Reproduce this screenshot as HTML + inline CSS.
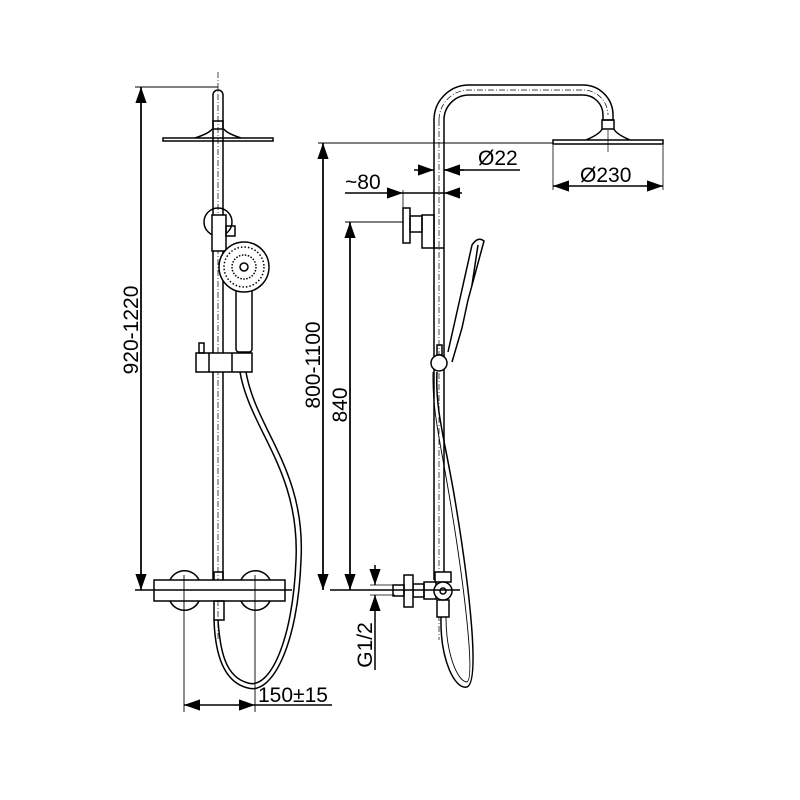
<!DOCTYPE html>
<html><head><style>body{margin:0;background:#fff}svg{display:block}text{font-family:"Liberation Sans",sans-serif;font-size:21px;fill:#000}</style></head><body>
<svg width="800" height="800" viewBox="0 0 800 800" xmlns="http://www.w3.org/2000/svg">
<defs>
<marker id="a" viewBox="0 0 10 10" refX="10" refY="5" markerWidth="16" markerHeight="16" markerUnits="userSpaceOnUse" orient="auto"><path d="M0,1.5 L10,5 L0,8.5z" fill="#000"/></marker>
</defs>
<g fill="none" stroke="#000" stroke-width="1.5">
<path d="M213,580 V95 A5,5 0 0 1 223,95 V580" fill="#fff"/>
<line x1="218" y1="72" x2="218" y2="640" stroke-dasharray="6,2,1,2" stroke-width="0.7"/>
<rect x="213" y="121" width="10" height="8"/>
<path d="M163,138 H273 V141 H163Z M195,138 Q210,133 212,129 M241,138 Q226,133 224,129"/>
<circle cx="218" cy="222" r="14"/>
<rect x="212" y="215" width="14" height="36" fill="#fff"/>
<rect x="226" y="226" width="9" height="10"/>
<rect x="236" y="285" width="16" height="67" rx="3" fill="#fff"/>
<circle cx="244" cy="267" r="25" fill="#fff"/>
<circle cx="244" cy="267" r="20" stroke-dasharray="1.5,2"/>
<circle cx="244" cy="267" r="12" stroke-dasharray="1.5,1.5"/>
<circle cx="244" cy="267" r="4"/>
<rect x="196" y="353" width="56" height="19" fill="#fff"/>
<line x1="209" y1="353" x2="209" y2="372"/><line x1="232" y1="353" x2="232" y2="372"/>
<rect x="199" y="343" width="5" height="10"/>
<path d="M240,372 C250,430 300,470 296,560 C293,640 270,690 248,683 C225,677 220,650 218,620"/>
<path d="M246,372 C256,430 306,470 301,560 C298,645 272,695 248,688 C222,682 215,650 214,620"/>
<rect x="214" y="572" width="9" height="9"/>
<rect x="154" y="580" width="131" height="21" fill="#fff"/>
<path d="M170,580 A16,16 0 0 1 199,580 M170,601 A16,16 0 0 0 199,601 M241,580 A16,16 0 0 1 270,580 M241,601 A16,16 0 0 0 270,601"/>
<rect x="214" y="601" width="10" height="19"/>
<line x1="135" y1="590" x2="292" y2="590"/>
<line x1="135" y1="87" x2="218" y2="87" stroke-width="0.9"/>
<line x1="141" y1="590" x2="141" y2="87" marker-end="url(#a)"/>
<line x1="141" y1="87" x2="141" y2="590" marker-end="url(#a)"/>
<line x1="184" y1="575" x2="184" y2="712" stroke-width="0.9"/>
<line x1="255" y1="575" x2="255" y2="712" stroke-width="0.9"/>
<line x1="220" y1="705" x2="184" y2="705" marker-end="url(#a)"/>
<line x1="220" y1="705" x2="255" y2="705" marker-end="url(#a)"/>
<line x1="255" y1="705" x2="332" y2="705"/>

<path d="M434,580 V120 A35,35 0 0 1 469,85 H583 A30,30 0 0 1 613,115 V120 H603 V115 A20,20 0 0 0 583,95 H469 A25,25 0 0 0 444,120 V580" fill="#fff"/>
<path d="M439,120 A30,30 0 0 1 469,90 H583 A25,25 0 0 1 608,115" stroke-dasharray="6,2,1,2" stroke-width="0.7"/>
<line x1="439" y1="120" x2="439" y2="640" stroke-dasharray="6,2,1,2" stroke-width="0.7"/>
<line x1="434" y1="248" x2="444" y2="248"/>
<rect x="602" y="120" width="12" height="9"/>
<path d="M553,140 H663 V144 H553Z M586,140 Q600,134 602,129 M630,140 Q616,134 614,129"/>
<line x1="608" y1="130" x2="608" y2="152" stroke-width="0.7"/>
<rect x="403" y="208" width="7" height="35" fill="#fff"/>
<rect x="410" y="216" width="12" height="16"/>
<rect x="422" y="215" width="12" height="33"/>
<path d="M448,352 L472,245 Q478,236 484,241 L468,300 L462,328 L452,362" fill="#fff"/>
<line x1="472" y1="285" x2="478" y2="245"/>
<rect x="437" y="345" width="5" height="10"/>
<circle cx="439" cy="363" r="8" fill="#fff"/>
<path d="M441,617 C440,660 455,690 467,687 C480,682 470,590 455,500 C445,440 435,410 437,372"/>
<path d="M446,617 C446,655 458,682 467,682 C475,678 465,590 450,500 C440,440 432,410 433,372" stroke-width="0.9"/>
<rect x="435" y="572" width="16" height="10" fill="#fff"/>
<rect x="437" y="600" width="12" height="17" fill="#fff"/>
<rect x="424" y="582" width="12" height="17" fill="#fff"/>
<circle cx="443" cy="591" r="9" fill="#fff"/>
<circle cx="443" cy="591" r="3"/>
<rect x="413" y="584" width="11" height="13"/>
<rect x="404" y="575" width="9" height="32" fill="#fff"/>
<rect x="393" y="585" width="11" height="11"/>
<line x1="330" y1="590" x2="460" y2="590"/>
<line x1="318" y1="143" x2="553" y2="143" stroke-width="0.9"/>
<line x1="323" y1="590" x2="323" y2="143" marker-end="url(#a)"/>
<line x1="323" y1="143" x2="323" y2="590" marker-end="url(#a)"/>
<line x1="345" y1="222" x2="403" y2="222" stroke-width="0.9"/>
<line x1="350" y1="590" x2="350" y2="222" marker-end="url(#a)"/>
<line x1="350" y1="222" x2="350" y2="590" marker-end="url(#a)"/>
<line x1="414" y1="170" x2="434" y2="170" marker-end="url(#a)"/>
<line x1="464" y1="170" x2="444" y2="170" marker-end="url(#a)"/>
<line x1="444" y1="170" x2="520" y2="170"/>
<line x1="345" y1="193" x2="403" y2="193" marker-end="url(#a)"/>
<line x1="462" y1="193" x2="444" y2="193" marker-end="url(#a)"/>
<line x1="403" y1="193" x2="444" y2="193"/>
<line x1="403" y1="190" x2="403" y2="208" stroke-width="0.8"/>
<line x1="553" y1="145" x2="553" y2="190" stroke-width="0.8"/>
<line x1="663" y1="145" x2="663" y2="190" stroke-width="0.8"/>
<line x1="608" y1="186" x2="553" y2="186" marker-end="url(#a)"/>
<line x1="608" y1="186" x2="663" y2="186" marker-end="url(#a)"/>
<line x1="375" y1="565" x2="375" y2="585" marker-end="url(#a)"/>
<line x1="375" y1="615" x2="375" y2="595" marker-end="url(#a)"/>
<line x1="375" y1="615" x2="375" y2="670"/>
<line x1="370" y1="585" x2="395" y2="585" stroke-width="0.8"/>
<line x1="370" y1="595" x2="395" y2="595" stroke-width="0.8"/>
</g>
<text transform="translate(138,330) rotate(-90)" text-anchor="middle">920-1220</text>
<text x="258" y="702">150±15</text>
<text transform="translate(320,365) rotate(-90)" text-anchor="middle">800-1100</text>
<text transform="translate(347,405) rotate(-90)" text-anchor="middle">840</text>
<text x="478" y="165">Ø22</text>
<text x="345" y="189">~80</text>
<text x="580" y="182">Ø230</text>
<text transform="translate(372,645) rotate(-90)" text-anchor="middle">G1/2</text>
</svg>
</body></html>
